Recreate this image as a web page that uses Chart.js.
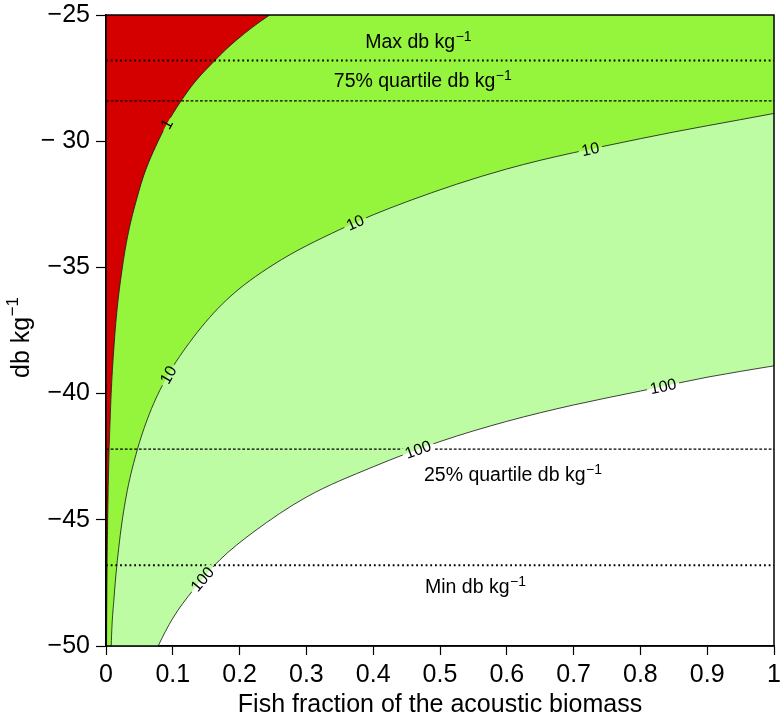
<!DOCTYPE html>
<html>
<head>
<meta charset="utf-8">
<script src="https://cdn.jsdelivr.net/npm/chart.js@4.4.1/dist/chart.umd.min.js"></script>
<style>
  html, body { margin: 0; padding: 0; background: #fff; }
  #wrap { width: 780px; height: 720px; }
</style>
</head>
<body>
<div id="wrap"><canvas id="chart" width="780" height="720"></canvas></div>
<script>
// Valores
const xTicks = [0, 0.1, 0.2, 0.3, 0.4, 0.5, 0.6, 0.7, 0.8, 0.9, 1];
const xTickLabels = ['0', '0.1', '0.2', '0.3', '0.4', '0.5', '0.6', '0.7', '0.8', '0.9', '1'];
const yTicks = [-50, -45, -40, -35, -30, -25];
const yTickLabels = ['\u221250', '\u221245', '\u221240', '\u221235', '\u2212 30', '\u221225'];

// Contorno "1" (limite rojo / verde)
const contour1X = [0, 0.0008, 0.0016, 0.0031, 0.0062, 0.0123, 0.0245, 0.049, 0.078, 0.123, 0.163, 0.195, 0.245, 0.31];
const contour1Y = [-55, -50, -47, -44, -41, -38, -35, -32, -30, -28, -26.8, -26, -25, -24];

// Contorno "10"
const contour10X = [0, 0.0078, 0.012, 0.02, 0.03, 0.045, 0.065, 0.09, 0.13, 0.18, 0.25, 0.35, 0.45, 0.6, 0.8, 1.0];
const contour10Y = [-60, -50, -48.1, -45.9, -44.1, -42.4, -40.8, -39.4, -37.8, -36.3, -34.9, -33.5, -32.4, -31.1, -29.9, -28.9];

// Contorno "100"
const contour100X = [0, 0.05, 0.078, 0.1, 0.13, 0.17, 0.22, 0.3, 0.4, 0.5, 0.6, 0.7, 0.8, 0.9, 1.0];
const contour100Y = [-70, -51.9, -50, -48.9, -47.8, -46.6, -45.5, -44.1, -42.9, -41.9, -41.1, -40.45, -39.9, -39.35, -38.9];

// Lineas de referencia (db kg-1)
const refNames = ['Max', '75% quartile', '25% quartile', 'Min'];
const refLevels = [-26.8, -28.4, -42.2, -46.8];

// Etiquetas de los contornos (posicion x sobre la curva)
const contourLabels = [
    { ds: 0, text: '1', at: [0.091] },
    { ds: 1, text: '10', at: [0.093, 0.373, 0.725] },
    { ds: 2, text: '100', at: [0.144, 0.467, 0.834] }
];

const FONT = '"Liberation Sans", Arial, Helvetica, sans-serif';

function toPoints(xs, ys) {
    return xs.map((x, i) => ({ x: x, y: ys[i] }));
}

// Estilos de trazo que dibuja el plugin
const lineStyles = [
    { ds: 0, width: 0.8, color: '#111' },
    { ds: 1, width: 0.8, color: '#111' },
    { ds: 2, width: 0.8, color: '#111' },
    { ds: 3, width: 2, color: '#000', dash: [1.8, 2.9] },
    { ds: 4, width: 1.3, color: '#000', dash: [2.8, 1.9] },
    { ds: 5, width: 1.3, color: '#000', dash: [2.8, 1.9] },
    { ds: 6, width: 2, color: '#000', dash: [1.8, 2.9] }
];

// Anotaciones de texto (inicio y linea base en unidades de datos)
const annotations = [
    { text: 'Max db kg', x: 0.388, y: -26.3 },
    { text: '75% quartile db kg', x: 0.341, y: -27.86 },
    { text: '25% quartile db kg', x: 0.476, y: -43.46 },
    { text: 'Min db kg', x: 0.4775, y: -47.89 }
];

function pointOnCurve(points, px) {
    for (let i = 0; i < points.length - 1; i++) {
        const a = points[i], b = points[i + 1];
        if (px < a.x || px > b.x) continue;
        const c1x = a.cp2x !== undefined ? a.cp2x : a.x;
        const c1y = a.cp2y !== undefined ? a.cp2y : a.y;
        const c2x = b.cp1x !== undefined ? b.cp1x : b.x;
        const c2y = b.cp1y !== undefined ? b.cp1y : b.y;
        const bz = (t, p0, p1, p2, p3) => {
            const u = 1 - t;
            return u * u * u * p0 + 3 * u * u * t * p1 + 3 * u * t * t * p2 + t * t * t * p3;
        };
        const dbz = (t, p0, p1, p2, p3) => {
            const u = 1 - t;
            return 3 * u * u * (p1 - p0) + 6 * u * t * (p2 - p1) + 3 * t * t * (p3 - p2);
        };
        let lo = 0, hi = 1;
        for (let k = 0; k < 40; k++) {
            const mid = (lo + hi) / 2;
            if (bz(mid, a.x, c1x, c2x, b.x) < px) lo = mid; else hi = mid;
        }
        const t = (lo + hi) / 2;
        let angle = Math.atan2(dbz(t, a.y, c1y, c2y, b.y), dbz(t, a.x, c1x, c2x, b.x));
        if (angle > Math.PI / 2) angle -= Math.PI;
        if (angle < -Math.PI / 2) angle += Math.PI;
        return { x: bz(t, a.x, c1x, c2x, b.x), y: bz(t, a.y, c1y, c2y, b.y), angle: angle };
    }
    return null;
}

function drawSupText(ctx, text, x, y, size, supSize, rise) {
    ctx.font = size + 'px ' + FONT;
    ctx.textAlign = 'left';
    ctx.textBaseline = 'alphabetic';
    ctx.fillText(text, x, y);
    const w = ctx.measureText(text).width;
    ctx.font = supSize + 'px ' + FONT;
    ctx.fillText('\u22121', x + w + 0.5, y - rise);
}

const contourPlugin = {
    id: 'contourPlugin',
    afterDatasetsDraw(chart) {
        const ctx = chart.ctx;
        const area = chart.chartArea;
        const xs = chart.scales.x, ys = chart.scales.y;
        const labelFont = '16px ' + FONT;

        ctx.save();
        ctx.font = labelFont;
        const boxes = [];
        contourLabels.forEach(cl => {
            const meta = chart.getDatasetMeta(cl.ds);
            if (typeof meta.dataset.updateControlPoints === 'function') {
                meta.dataset.updateControlPoints(area, 'x');
            }
            cl.at.forEach(v => {
                const pos = pointOnCurve(meta.data, xs.getPixelForValue(v));
                if (!pos) return;
                const w = ctx.measureText(cl.text).width + 6;
                boxes.push({ x: pos.x, y: pos.y, angle: pos.angle, w: w, h: 12, text: cl.text });
            });
        });

        // Recorte: area del grafico menos las cajas de las etiquetas
        ctx.beginPath();
        ctx.rect(area.left, area.top, area.right - area.left, area.bottom - area.top);
        boxes.forEach(b => {
            const c = Math.cos(b.angle), s = Math.sin(b.angle);
            const hw = b.w / 2, hh = b.h / 2;
            const corners = [[-hw, -hh], [hw, -hh], [hw, hh], [-hw, hh]].map(p =>
                [b.x + p[0] * c - p[1] * s, b.y + p[0] * s + p[1] * c]);
            ctx.moveTo(corners[0][0], corners[0][1]);
            for (let k = 1; k < 4; k++) ctx.lineTo(corners[k][0], corners[k][1]);
            ctx.closePath();
        });
        ctx.clip('evenodd');

        lineStyles.forEach(st => {
            const meta = chart.getDatasetMeta(st.ds);
            ctx.lineWidth = st.width;
            ctx.strokeStyle = st.color;
            ctx.setLineDash(st.dash || []);
            ctx.beginPath();
            if (typeof meta.dataset.path === 'function') {
                meta.dataset.path(ctx, 0, meta.data.length);
            } else {
                meta.data.forEach((p, i) => i ? ctx.lineTo(p.x, p.y) : ctx.moveTo(p.x, p.y));
            }
            ctx.stroke();
        });
        ctx.restore();

        // Texto de las etiquetas de contorno
        ctx.save();
        ctx.fillStyle = '#000';
        ctx.font = labelFont;
        ctx.textAlign = 'center';
        ctx.textBaseline = 'middle';
        boxes.forEach(b => {
            ctx.save();
            ctx.translate(b.x, b.y);
            ctx.rotate(b.angle);
            ctx.fillText(b.text, 0, 1);
            ctx.restore();
        });
        ctx.restore();

        // Anotaciones de las lineas de referencia
        ctx.save();
        ctx.fillStyle = '#000';
        annotations.forEach(a => {
            drawSupText(ctx, a.text, xs.getPixelForValue(a.x), ys.getPixelForValue(a.y), 19.5, 14, 7);
        });
        ctx.restore();
    },
    afterDraw(chart) {
        const ctx = chart.ctx;
        const area = chart.chartArea;
        ctx.save();
        ctx.strokeStyle = '#000';
        ctx.lineWidth = 1.5;
        ctx.strokeRect(area.left, area.top, area.right - area.left, area.bottom - area.top);

        // Titulo del eje y con superindice
        ctx.fillStyle = '#000';
        ctx.translate(29, 378);
        ctx.rotate(-Math.PI / 2);
        drawSupText(ctx, 'db kg', 0, 0, 25, 17, 11);
        ctx.restore();
    }
};

const tickFont = { family: FONT, size: 25 };

new Chart(document.getElementById('chart'), {
    type: 'line',
    data: {
        datasets: [
            { data: toPoints(contour1X, contour1Y), fill: 'end', backgroundColor: '#d40000' },
            { data: toPoints(contour10X, contour10Y), fill: 'end', backgroundColor: '#95f53d' },
            { data: toPoints(contour100X, contour100Y), fill: 'end', backgroundColor: '#bdfca3' }
        ].concat(refLevels.map((lv, i) => ({
            label: refNames[i],
            data: [{ x: 0, y: lv }, { x: 1, y: lv }],
            fill: false,
            tension: 0,
            cubicInterpolationMode: 'default'
        }))).map(ds => Object.assign({
            borderColor: 'rgba(0,0,0,0)',
            borderWidth: 0,
            pointRadius: 0,
            cubicInterpolationMode: 'monotone'
        }, ds))
    },
    options: {
        responsive: false,
        animation: false,
        events: [],
        layout: { padding: { top: 15, right: 6, left: 0, bottom: 0 } },
        plugins: {
            legend: { display: false },
            tooltip: { enabled: false }
        },
        scales: {
            x: {
                type: 'linear',
                min: 0,
                max: 1,
                afterBuildTicks: s => { s.ticks = xTicks.map(v => ({ value: v })); },
                afterFit: s => {
                    s.height = 74;
                    s.paddingLeft = 0;
                    s.paddingRight = 0;
                },
                ticks: {
                    autoSkip: false,
                    maxRotation: 0,
                    color: '#000',
                    font: tickFont,
                    padding: 5,
                    callback: v => xTickLabels[xTicks.indexOf(v)]
                },
                grid: { drawOnChartArea: false, tickLength: 9, color: '#000', tickWidth: 1.2 },
                border: { color: '#000', width: 1.5 },
                title: {
                    display: true,
                    text: 'Fish fraction of the acoustic biomass',
                    color: '#000',
                    font: { family: FONT, size: 25 },
                    padding: { top: 0, bottom: 0 }
                }
            },
            y: {
                type: 'linear',
                min: -50,
                max: -25,
                afterBuildTicks: s => { s.ticks = yTicks.map(v => ({ value: v })); },
                afterFit: s => {
                    s.width = 106;
                    s.paddingTop = 0;
                    s.paddingBottom = 0;
                },
                ticks: {
                    autoSkip: false,
                    color: '#000',
                    font: tickFont,
                    padding: 6,
                    callback: v => yTickLabels[yTicks.indexOf(v)]
                },
                grid: { drawOnChartArea: false, tickLength: 10, color: '#000', tickWidth: 1.2 },
                border: { color: '#000', width: 1.5 }
            }
        }
    },
    plugins: [contourPlugin]
});
</script>
</body>
</html>
